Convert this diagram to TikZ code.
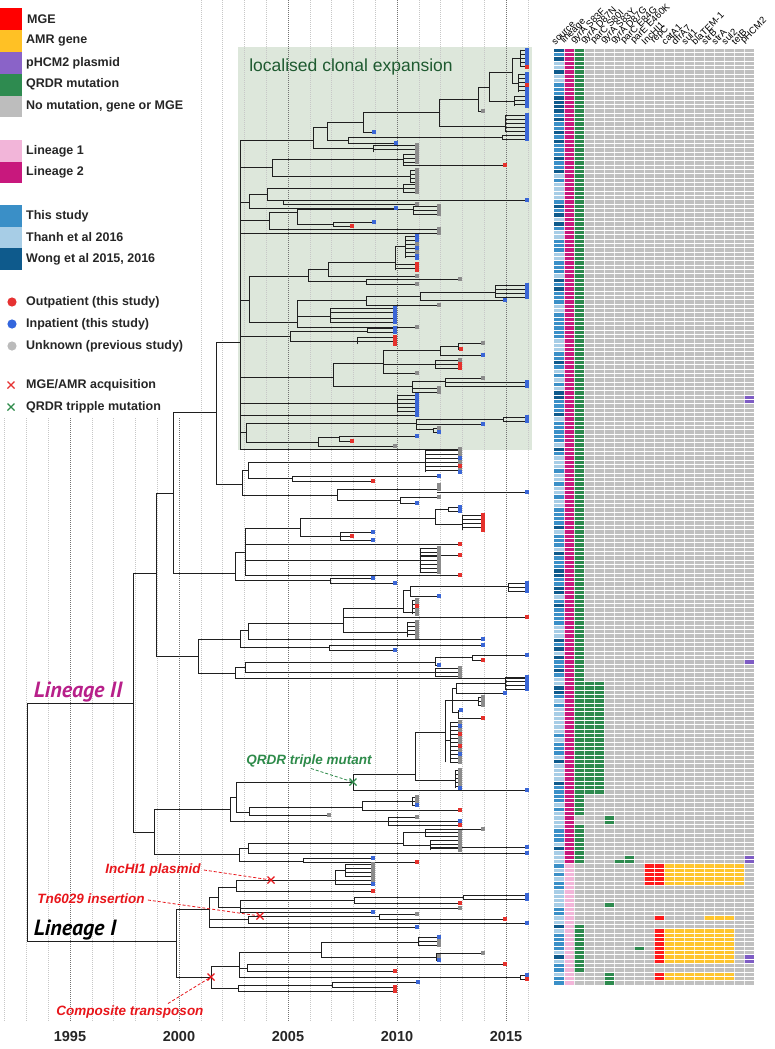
\documentclass[tikz,border=0pt]{standalone}
\usepackage{fontspec}
\setmainfont{Liberation Sans}
\newfontfamily\linfont{PT Sans}
\pgfdeclarelayer{bg}
\pgfdeclarelayer{tipl}
\pgfsetlayers{bg,main,tipl}
\definecolor{tipred}{HTML}{E5312C}
\definecolor{tipblue}{HTML}{3A66D6}
\definecolor{tipgrey}{HTML}{8C8C8C}
\definecolor{hgrey}{HTML}{C0C0C0}
\definecolor{hgreen}{HTML}{2D8A4E}
\definecolor{hred}{HTML}{FF1A1A}
\definecolor{hyellow}{HTML}{FFC52E}
\definecolor{hpurple}{HTML}{7E5CC4}
\definecolor{lpink}{HTML}{F2B5D9}
\definecolor{lmag}{HTML}{C8187D}
\definecolor{cthis}{HTML}{3A8FC7}
\definecolor{cthanh}{HTML}{A7CDE6}
\definecolor{cwong}{HTML}{0E5A8C}
\definecolor{boxgreen}{HTML}{DDE7DB}
\definecolor{txtgreen}{HTML}{1E5A30}
\definecolor{annred}{HTML}{E8161B}
\definecolor{anngreen}{HTML}{2E8B4A}
\definecolor{linmag}{HTML}{B8208A}
\definecolor{legred}{HTML}{FF0000}
\definecolor{legyel}{HTML}{FFC125}
\definecolor{legpur}{HTML}{8A63C8}
\definecolor{leggrn}{HTML}{2E8B50}
\definecolor{leggry}{HTML}{BDBDBD}
\definecolor{dotred}{HTML}{E63232}
\definecolor{dotblue}{HTML}{3366DD}
\definecolor{dotgrey}{HTML}{BBBBBB}
\tikzset{
  br/.style={line width=0.85pt, draw=black!88, line cap=rect},
  tipr/.style={fill=tipred}, tipb/.style={fill=tipblue}, tipg/.style={fill=tipgrey},
  legtxt/.style={anchor=west, inner sep=0pt, font=\fontsize{12.5}{14}\selectfont\bfseries, text=black!85},
  hdr/.style={anchor=south west, rotate=45, inner sep=0.3pt, font=\fontsize{9.5}{10}\selectfont},
  ann/.style={font=\fontsize{13.5}{15}\selectfont\bfseries\itshape, inner sep=0pt},
  anndash/.style={dash pattern=on 3pt off 2pt, line width=0.8pt},
  yearlab/.style={font=\fontsize{14.5}{16}\selectfont\bfseries, text=black!85},
  linlab/.style={font=\fontsize{22}{24}\selectfont\linfont\bfseries\itshape, inner sep=0pt}
}
\newcommand\brH[3]{\draw[br] (#1,#3) -- (#2,#3);}
\newcommand\brV[3]{\draw[br] (#1,#2) -- (#1,#3);}
\newcommand\ttp[3]{\begin{pgfonlayer}{tipl}\fill[tip#3] ({#1-2},{#2-2}) rectangle ({#1+2},{#2+2});\end{pgfonlayer}}
\newcommand\tlf[4]{\draw[br] (#1,#3) -- (#2,#3); \ttp{#2}{#3}{#4}}
\newcommand\clu[5]{\draw[br] (#1,#3) -- (#1,#4);
  \pgfmathsetmacro\cluA{#3+4}%
  \foreach \yy in {#3,\cluA,...,#4}{\draw[br] (#1,\yy) -- (#2,\yy);}%
  \begin{pgfonlayer}{tipl}\fill[tip#5] ({#2-2},{#3-2}) rectangle ({#2+2},{#4+2});\end{pgfonlayer}}
\newcommand\xmk[3]{\begin{pgfonlayer}{tipl}\draw[#3, line width=1.1pt] ({#1-3.5},{#2-3.5}) -- ({#1+3.5},{#2+3.5}) ({#1-3.5},{#2+3.5}) -- ({#1+3.5},{#2-3.5});\end{pgfonlayer}}
\newcommand\hcr[5]{\fill[#5] ({554+(#1-1)*10},{48+#3*4.338}) rectangle ({554+#2*10},{48+(#4+1)*4.338});}
\begin{document}
\begin{tikzpicture}[x=1pt,y=-1pt]
\useasboundingbox (0,0) rectangle (775,1049);
% ---------- background: box, grid, legend background ----------
\begin{pgfonlayer}{bg}
\fill[white] (0,0) rectangle (775,1049);
\fill[boxgreen] (238,47) rectangle (532,450);
\foreach \yr in {1992,...,2016}{
  \draw[black!22, line width=0.5pt, dash pattern=on 1pt off 1pt] ({179+(\yr-2000)*21.8},0) -- ({179+(\yr-2000)*21.8},1022);
}
\foreach \yr in {1995,2000,2005,2010,2015}{
  \draw[black!55, line width=0.6pt, dash pattern=on 1pt off 1pt] ({179+(\yr-2000)*21.8},0) -- ({179+(\yr-2000)*21.8},1022);
}
\fill[white] (0,0) rectangle (195,418);
\end{pgfonlayer}
\node[font=\fontsize{17.5}{19}\selectfont, text=txtgreen] (boxlab) at (351,67) {localised clonal expansion};
% ---------- legend ----------
\fill[legred] (0,8) rectangle (22,30);
\fill[legyel] (0,30) rectangle (22,52);
\fill[legpur] (0,52) rectangle (22,74);
\fill[leggrn] (0,74) rectangle (22,96);
\fill[leggry] (0,96) rectangle (22,117);
\fill[lpink] (0,140) rectangle (22,162);
\fill[lmag] (0,162) rectangle (22,183);
\fill[cthis] (0,205) rectangle (22,227);
\fill[cthanh] (0,227) rectangle (22,248);
\fill[cwong] (0,248) rectangle (22,270);
\node[legtxt] (l1) at (27,19) {MGE};
\node[legtxt] (l2) at (26,41) {AMR gene};
\node[legtxt] (l3) at (26,63) {pHCM2 plasmid};
\node[legtxt] (l4) at (26,84) {QRDR mutation};
\node[legtxt] (l5) at (26,106) {No mutation, gene or MGE};
\node[legtxt] (l6) at (26,151) {Lineage 1};
\node[legtxt] (l7) at (26,172) {Lineage 2};
\node[legtxt] (l8) at (26,216) {This study};
\node[legtxt] (l9) at (26,237) {Thanh et al 2016};
\node[legtxt] (l10) at (26,259) {Wong et al 2015, 2016};
\fill[dotred] (12,302) circle (4.6);
\fill[dotblue] (12,324) circle (4.6);
\fill[dotgrey] (12,346) circle (4.6);
\node[legtxt] (l11) at (26,302) {Outpatient (this study)};
\node[legtxt] (l12) at (26,324) {Inpatient (this study)};
\node[legtxt] (l13) at (26,346) {Unknown (previous study)};
\xmk{11}{385}{dotred}
\xmk{11}{407}{anngreen}
\node[legtxt] (l14) at (26,385) {MGE/AMR acquisition};
\node[legtxt] (l15) at (26,407) {QRDR tripple mutation};
% ---------- tree backbone ----------
\brV{27}{703}{941}
\brH{27}{133}{703}
\brV{133}{573}{832}
\brH{133}{156}{573}
\brV{156}{493}{656}
\brH{156}{173}{493}
\brV{173}{412}{573}
\brH{173}{216}{412}
\brV{216}{342}{484}
\brH{216}{240}{342}
\brV{240}{140}{449}
% ---------- clonal expansion ----------
\brH{240}{313}{140}
\brV{313}{127}{148}
\brH{313}{327}{127}
\brV{327}{122}{140}
\brH{327}{363}{122}
\brV{363}{112}{132}
\brH{363}{439}{112}
\brV{439}{99}{126}
\brH{439}{478}{99}
\brV{478}{87}{111}
\brH{478}{489}{87}
\brV{489}{72}{101}
\brH{489}{512}{72}
\brV{512}{58}{83}
\brH{512}{520}{58}
\clu{520}{527}{50}{66}{b}
\brH{512}{518}{83}
\clu{518}{527}{74}{92}{b}
\ttp{527}{67}{r}
\ttp{527}{85}{r}
\brH{489}{514}{101}
\clu{514}{527}{96}{106}{b}
\tlf{478}{483}{111}{g}
\brH{439}{505}{126}
\clu{505}{527}{115}{131}{b}
\tlf{363}{374}{132}{b}
\brH{327}{348}{140}
\brV{348}{137}{143}
\brH{348}{502}{137}
\clu{502}{527}{135}{139}{b}
\tlf{348}{396}{143}{b}
\brH{313}{373}{148}
\clu{373}{417}{145}{152}{g}
\brH{240}{272}{167}
\brV{272}{159}{176}
\brH{272}{403}{159}
\brV{403}{154}{165}
\clu{403}{417}{154}{162}{g}
\tlf{403}{505}{165}{r}
\brH{272}{410}{176}
\clu{410}{417}{170}{182}{g}
\brH{240}{249}{202}
\brV{249}{194}{208}
\brH{249}{267}{194}
\brV{267}{188}{200}
\brH{267}{403}{188}
\clu{403}{417}{184}{192}{g}
\brH{267}{283}{200}
\brV{283}{200}{204}
\tlf{283}{527}{200}{b}
\tlf{283}{417}{204}{g}
\tlf{249}{396}{208}{b}
\brH{240}{269}{220}
\brV{269}{212}{229}
\brH{269}{297}{212}
\brV{297}{209}{224}
\brH{297}{413}{209}
\clu{413}{439}{206}{214}{g}
\brH{297}{333}{224}
\brV{333}{222}{226}
\tlf{333}{374}{222}{b}
\tlf{333}{352}{226}{r}
\tlf{269}{439}{229}{g}
\tlf{240}{439}{233}{g}
\brH{240}{249}{300}
\brV{249}{276}{322}
\brH{249}{308}{276}
\brV{308}{269}{281}
\brH{308}{328}{269}
\brV{328}{262}{276}
\brH{328}{395}{262}
\brV{395}{246}{268}
\brH{395}{405}{246}
\clu{405}{417}{236}{258}{b}
\ttp{417}{244}{g}
\ttp{417}{252}{g}
\clu{395}{417}{264}{270}{r}
\tlf{328}{417}{276}{g}
\brH{308}{366}{281}
\brV{366}{279}{284}
\tlf{366}{460}{279}{g}
\tlf{366}{417}{284}{g}
\brH{249}{297}{322}
\brV{297}{300}{327}
\brH{297}{366}{300}
\brV{366}{296}{305}
\brH{366}{420}{296}
\brV{420}{292}{300}
\brH{420}{495}{292}
\clu{495}{527}{285}{297}{b}
\tlf{420}{505}{300}{b}
\tlf{366}{439}{305}{g}
\brH{297}{330}{316}
\brV{330}{311}{322}
\clu{330}{395}{308}{314}{b}
\clu{330}{395}{318}{322}{b}
\tlf{297}{417}{327}{g}
\brH{240}{290}{336}
\brV{290}{331}{341}
\brH{290}{367}{331}
\clu{367}{395}{328}{332}{b}
\brH{290}{357}{341}
\clu{357}{395}{337}{344}{r}
\brH{240}{333}{377}
\brV{333}{363}{386}
\brH{333}{383}{363}
\brV{383}{350}{373}
\brH{383}{440}{350}
\brV{440}{346}{355}
\brH{440}{458}{346}
\brV{458}{343}{349}
\tlf{458}{483}{343}{g}
\tlf{458}{461}{349}{r}
\tlf{440}{483}{355}{b}
\brH{383}{435}{364}
\clu{435}{460}{360}{368}{r}
\ttp{460}{360}{g}
\tlf{383}{417}{373}{g}
\brH{333}{412}{386}
\brV{412}{381}{391}
\brH{412}{445}{381}
\brV{445}{378}{384}
\tlf{445}{483}{378}{g}
\clu{445}{527}{382}{386}{b}
\clu{412}{439}{388}{392}{g}
\brH{240}{397}{403}
\clu{397}{417}{395}{411}{b}
\tlf{240}{417}{415}{b}
\brH{240}{246}{432}
\brV{246}{423}{442}
\brH{246}{416}{423}
\brV{416}{419}{429}
\brH{416}{503}{419}
\clu{503}{527}{417}{421}{b}
\tlf{416}{483}{424}{b}
\brH{416}{433}{429}
\brV{433}{428}{432}
\tlf{433}{439}{428}{g}
\tlf{433}{439}{432}{b}
\brH{246}{318}{442}
\brV{318}{437}{446}
\brH{318}{339}{437}
\brV{339}{436}{441}
\tlf{339}{417}{436}{b}
\tlf{339}{352}{441}{r}
\tlf{318}{395}{446}{g}
\tlf{240}{460}{449}{g}
% ---------- below box (A1a lower) ----------
\brH{216}{242}{484}
\brV{242}{470}{495}
\brH{242}{248}{470}
\brV{248}{462}{478}
\brH{248}{425}{462}
\clu{425}{460}{450}{472}{g}
\ttp{460}{458}{b}
\ttp{460}{466}{r}
\ttp{460}{472}{b}
\brH{248}{292}{478}
\brV{292}{476}{481}
\tlf{292}{439}{476}{b}
\tlf{292}{373}{481}{r}
\brH{242}{337}{495}
\brV{337}{489}{500}
\brH{337}{437}{489}
\clu{437}{439}{485}{489}{g}
\tlf{437}{527}{492}{b}
\brH{337}{400}{500}
\brV{400}{497}{503}
\tlf{400}{439}{497}{g}
\tlf{400}{417}{503}{b}
% ---------- A1b ----------
\brH{173}{235}{573}
\brV{235}{552}{580}
\brH{235}{245}{552}
\brV{245}{528}{575}
\brH{245}{300}{528}
\brV{300}{518}{536}
\brH{300}{435}{518}
\brV{435}{509}{524}
\brH{435}{448}{509}
\brV{448}{507}{511}
\tlf{448}{460}{507}{b}
\tlf{448}{460}{511}{b}
\brH{435}{462}{524}
\clu{462}{483}{515}{530}{r}
\brH{300}{340}{536}
\brV{340}{532}{540}
\tlf{340}{373}{532}{b}
\tlf{340}{352}{536}{r}
\tlf{340}{373}{540}{b}
\tlf{245}{460}{544}{r}
\brH{245}{420}{560}
\clu{420}{439}{548}{572}{g}
\tlf{420}{460}{555}{r}
\tlf{245}{460}{575}{r}
\brH{235}{330}{580}
\brV{330}{578}{583}
\tlf{330}{373}{578}{b}
\tlf{330}{395}{583}{b}
% ---------- A2 ----------
\brH{156}{198}{656}
\brV{198}{639}{673}
\brH{198}{240}{639}
\brV{240}{630}{647}
\brH{240}{248}{630}
\brV{248}{623}{639}
\brH{248}{343}{623}
\brV{343}{608}{632}
\brH{343}{403}{608}
\brV{403}{590}{612}
\brH{403}{410}{590}
\brV{410}{586}{596}
\brH{410}{508}{586}
\clu{508}{527}{583}{591}{b}
\tlf{410}{439}{596}{b}
\brH{403}{412}{612}
\clu{412}{417}{600}{614}{g}
\ttp{417}{606}{r}
\tlf{343}{527}{617}{r}
\brH{343}{407}{632}
\clu{407}{417}{622}{637}{g}
\tlf{248}{483}{639}{b}
\brH{240}{329}{647}
\brV{329}{645}{650}
\tlf{329}{483}{645}{b}
\tlf{329}{395}{650}{b}
\brH{198}{235}{673}
\brV{235}{667}{678}
\brH{235}{245}{667}
\brV{245}{662}{672}
\brH{245}{435}{662}
\brV{435}{657}{665}
\brH{435}{472}{657}
\brV{472}{655}{660}
\tlf{472}{527}{655}{b}
\tlf{472}{483}{660}{r}
\tlf{435}{439}{665}{b}
\brH{245}{435}{672}
\clu{435}{460}{668}{676}{g}
\tlf{235}{527}{678}{b}
% ---------- Lineage II lower (QRDR) ----------
\brH{133}{154}{832}
\brV{154}{809}{854}
\brH{154}{230}{809}
\brV{230}{797}{821}
\brH{230}{236}{797}
\brV{236}{782}{812}
\brH{236}{353}{782}
\brV{353}{774}{790}
\brH{353}{415}{774}
\brV{415}{732}{780}
\brH{415}{445}{732}
\brV{445}{700}{762}
\brH{445}{452}{700}
\brV{452}{688}{712}
\brH{452}{456}{688}
\brV{456}{683}{693}
\brH{456}{505}{683}
\clu{505}{527}{677}{689}{b}
\tlf{456}{505}{693}{b}
\brH{452}{478}{700}
\clu{478}{483}{697}{705}{g}
\brH{452}{458}{712}
\brV{458}{710}{718}
\tlf{458}{461}{710}{b}
\tlf{458}{483}{718}{r}
\brH{445}{450}{740}
\clu{450}{460}{722}{762}{g}
\ttp{460}{726}{b}
\ttp{460}{734}{r}
\ttp{460}{746}{r}
\ttp{460}{754}{b}
\brH{415}{455}{780}
\clu{455}{460}{770}{788}{g}
\ttp{460}{788}{b}
\tlf{353}{527}{790}{b}
\brH{236}{249}{812}
\brV{249}{807}{815}
\brH{249}{362}{807}
\brV{362}{801}{810}
\brH{362}{412}{801}
\clu{412}{417}{797}{805}{g}
\ttp{417}{805}{b}
\tlf{362}{460}{810}{r}
\tlf{249}{329}{815}{g}
\brH{230}{388}{821}
\brV{388}{817}{825}
\tlf{388}{417}{817}{g}
\tlf{388}{460}{821}{b}
\tlf{388}{460}{825}{r}
\brH{154}{239}{854}
\brV{239}{848}{861}
\brH{239}{248}{848}
\brV{248}{843}{853}
\brH{248}{403}{843}
\brV{403}{832}{845}
\brH{403}{425}{832}
\brV{425}{829}{836}
\tlf{425}{483}{829}{g}
\clu{425}{460}{832}{836}{g}
\brH{403}{430}{845}
\clu{430}{460}{840}{850}{g}
\tlf{430}{527}{847}{b}
\tlf{248}{527}{853}{b}
\brH{239}{303}{861}
\brV{303}{858}{862}
\tlf{303}{373}{858}{b}
\tlf{303}{417}{862}{r}
% ---------- Lineage I ----------
\brH{27}{176}{941}
\brV{176}{909}{977}
\brH{176}{209}{909}
\brV{209}{897}{927}
\brH{209}{218}{897}
\brV{218}{887}{907}
\brH{218}{236}{887}
\brV{236}{880}{891}
\brH{236}{335}{880}
\brV{335}{870}{884}
\brH{335}{345}{870}
\clu{345}{373}{864}{876}{g}
\tlf{335}{373}{880}{g}
\tlf{335}{373}{884}{b}
\tlf{236}{373}{891}{r}
\brH{218}{240}{907}
\brV{240}{900}{912}
\brH{240}{354}{900}
\brV{354}{897}{903}
\brH{354}{463}{897}
\clu{463}{527}{895}{899}{b}
\tlf{354}{460}{903}{r}
\tlf{240}{460}{908}{g}
\tlf{240}{373}{912}{b}
\brH{209}{248}{919}
\brV{248}{916}{923}
\brH{248}{379}{916}
\brV{379}{914}{919}
\tlf{379}{417}{914}{g}
\tlf{379}{505}{919}{r}
\tlf{248}{527}{923}{b}
\tlf{209}{417}{927}{b}
\brH{176}{211}{977}
\brV{211}{966}{988}
\brH{211}{239}{966}
\brV{239}{952}{977}
\brH{239}{321}{952}
\brV{321}{942}{957}
\brH{321}{418}{942}
\brV{418}{937}{945}
\tlf{418}{439}{937}{b}
\clu{418}{439}{941}{945}{g}
\brH{321}{436}{957}
\brV{436}{953}{960}
\tlf{436}{483}{953}{g}
\tlf{436}{439}{956}{g}
\tlf{436}{439}{960}{b}
\brH{239}{247}{968}
\brV{247}{964}{971}
\tlf{247}{505}{964}{r}
\tlf{247}{395}{971}{r}
\brH{239}{520}{977}
\brV{520}{975}{979}
\tlf{520}{527}{975}{b}
\tlf{520}{527}{979}{r}
\brH{211}{238}{988}
\brV{238}{985}{991}
\brH{238}{332}{985}
\brV{332}{982}{987}
\tlf{332}{418}{982}{b}
\tlf{332}{395}{987}{r}
\tlf{238}{395}{991}{r}
% ---------- event marks and annotations ----------
\coordinate (xinc) at (271,880);
\coordinate (xtn) at (260,916);
\coordinate (xcomp) at (211,977);
\coordinate (xqrdr) at (353,782);
\xmk{271}{880}{annred}
\xmk{260}{916}{annred}
\xmk{211}{977}{annred}
\xmk{353}{782}{anngreen}
\node[ann, text=anngreen] (aq) at (309,761) {QRDR triple mutant};
\node[ann, text=annred] (ai) at (153,870) {IncHI1 plasmid};
\node[ann, text=annred] (at) at (91,899) {Tn6029 insertion};
\node[ann, text=annred] (ac) at (130,1012) {Composite transposon};
\draw[anndash, anngreen] (aq.south) ++(2,1) -- (xqrdr);
\draw[anndash, annred] (ai.east) ++(3,0) -- (xinc);
\draw[anndash, annred] (at.east) ++(3,1) -- (xtn);
\draw[anndash, annred] (ac.north) ++(38,-2) -- (xcomp);
\node[linlab, text=linmag, anchor=base] (lin2) at (78,697) {Lineage II};
\node[linlab, text=black, anchor=base] (lin1) at (75,935) {Lineage I};
% ---------- year axis ----------
\foreach \yr in {1995,2000,2005,2010,2015}{
  \node[yearlab] at ({179+(\yr-2000)*21.8},1036) {\yr};
}
% ---------- heatmap ----------
\fill[hgrey] (574,48) rectangle (754,985);
\fill[lmag] (564,48) rectangle (574,{48+188*4.338});
\fill[lpink] (564,{48+188*4.338}) rectangle (574,985);
\pgfmathsetseed{1234}
\foreach \i in {0,...,215}{
  \pgfmathsetmacro\rr{rnd}
  \pgfmathtruncatemacro\kk{\i<150 ? (\rr<0.28 ? 0 : (\rr<0.66 ? 1 : 2)) : (\rr<0.08 ? 0 : (\rr<0.5 ? 1 : 2))}
  \ifcase\kk \def\cc{cwong}\or\def\cc{cthis}\else\def\cc{cthanh}\fi
  \fill[\cc] (554,{48+\i*4.338}) rectangle (564,{48+(\i+1)*4.338});
}
\hcr{3}{3}{0}{176}{hgreen}
\hcr{6}{6}{177}{178}{hgreen}
\hcr{3}{3}{179}{187}{hgreen}
\hcr{4}{5}{146}{171}{hgreen}
\hcr{7}{7}{187}{187}{hgreen}
\hcr{8}{8}{186}{187}{hgreen}
\hcr{20}{20}{186}{187}{hpurple}
\hcr{20}{20}{80}{81}{hpurple}
\hcr{20}{20}{141}{141}{hpurple}
\hcr{10}{11}{188}{192}{hred}
\hcr{12}{19}{188}{192}{hyellow}
\hcr{6}{6}{197}{197}{hgreen}
\hcr{11}{11}{200}{200}{hred}
\hcr{16}{18}{200}{200}{hyellow}
\hcr{3}{3}{202}{212}{hgreen}
\hcr{11}{11}{203}{210}{hred}
\hcr{12}{18}{203}{210}{hyellow}
\hcr{9}{9}{207}{207}{hgreen}
\hcr{20}{20}{209}{210}{hpurple}
\hcr{6}{6}{213}{215}{hgreen}
\hcr{11}{11}{213}{214}{hred}
\hcr{12}{18}{213}{214}{hyellow}
\foreach \i in {0,...,216}{
  \draw[white, line width=0.7pt] (554,{48+\i*4.338}) -- (754,{48+\i*4.338});
}
\foreach \c in {1,...,19}{
  \draw[white, line width=0.5pt, opacity=0.75] ({554+\c*10},48) -- ({554+\c*10},985);
}
\foreach \c/\t in {1/source,2/lineage,3/gyrA S83F,4/gyrA D87N,5/parC S80I,6/gyrA S83Y,7/gyrA D87G,8/parC E84G,9/parE E460K,10/IncHI1,11/repC,12/catA1,13/dfrA7,14/sul1,15/blaTEM-1,16/strB,17/strA,18/sul2,19/tetB,20/pHCM2}{
  \node[hdr] at ({554+(\c-1)*10+1.5},46) {\t};
}
\end{tikzpicture}
\end{document}
